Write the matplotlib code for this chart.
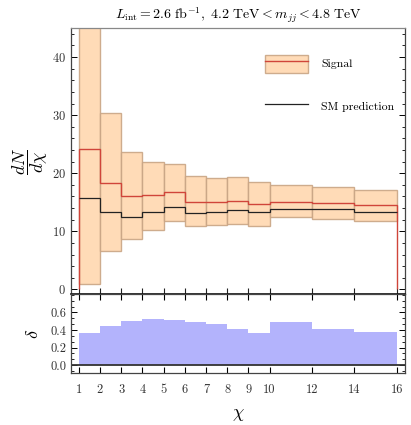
import numpy as np
import matplotlib
matplotlib.use("Agg")
import matplotlib.pyplot as plt
from matplotlib.patches import Patch
from matplotlib.lines import Line2D
from matplotlib.ticker import MultipleLocator, FixedLocator, FormatStrFormatter

plt.rcParams['font.family'] = 'serif'
plt.rcParams['font.serif'] = ['cmr10', 'DejaVu Serif']
plt.rcParams['mathtext.fontset'] = 'cm'
plt.rcParams['axes.formatter.use_mathtext'] = True

# bin edges in chi
edges = [1, 2, 3, 4, 5, 6, 7, 8, 9, 10, 12, 14, 16]
signal = [24.2, 18.4, 16.1, 16.2, 16.7, 15.1, 15.1, 15.3, 14.7, 15.1, 14.9, 14.5]
signal_hi = [48.0, 30.3, 23.6, 22.0, 21.5, 19.5, 19.1, 19.3, 18.5, 17.9, 17.6, 17.1]
signal_lo = [1.0, 6.6, 8.6, 10.3, 11.7, 10.9, 11.0, 11.3, 10.9, 12.4, 12.2, 11.8]
sm = [15.7, 13.3, 12.4, 13.3, 14.1, 13.1, 13.3, 13.7, 13.3, 13.8, 13.8, 13.4]
delta = [0.37, 0.44, 0.50, 0.52, 0.51, 0.49, 0.47, 0.41, 0.37, 0.49, 0.41, 0.38]
xticks = [1, 2, 3, 4, 5, 6, 7, 8, 9, 10, 12, 14, 16]
delta_ticks = [0.0, 0.2, 0.4, 0.6]

band_face = '#ffd8b0'
band_edge = '#c9a585'
red = '#d0453a'
blue = '#b3b3fc'
frame = '#444444'
tick_fs = 9

fig = plt.figure(figsize=(4.11, 4.25), dpi=100)
ax = fig.add_axes([0.1728, 0.3082, 0.8126, 0.6259])
axd = fig.add_axes([0.1728, 0.1224, 0.8126, 0.1858], sharex=ax)

e = np.array(edges, dtype=float)
widths = np.diff(e)
lo = np.array(signal_lo)
hi = np.array(signal_hi)
ax.bar(e[:-1], hi - lo, bottom=lo, width=widths, align='edge',
       color=band_face, edgecolor=band_edge, linewidth=1.0, alpha=0.9, zorder=1)
ax.stairs(signal, edges, baseline=0, color=red, linewidth=1.0, zorder=3)
ax.stairs(sm, edges, baseline=None, color='#222222', linewidth=0.9, zorder=3)

ax.set_xlim(0.64, 16.38)
ax.set_ylim(-0.8, 45.0)
ax.yaxis.set_major_locator(MultipleLocator(10))
ax.yaxis.set_minor_locator(MultipleLocator(2))
ax.set_xticks(xticks)
ax.tick_params(axis='x', which='both', direction='in', labelbottom=False, length=4, width=0.8, color='#222222')
ax.tick_params(axis='y', which='major', direction='in', left=True, right=True, length=4, width=0.7,
               labelsize=tick_fs, labelcolor='#333333')
ax.tick_params(axis='y', which='minor', direction='in', left=True, right=True, length=2.5, width=0.6)
ax.set_ylabel(r'$\dfrac{dN}{d\chi}$', fontsize=13, rotation=90)
ax.yaxis.set_label_coords(-0.063, 0.5)

sig_handle = (Patch(facecolor=band_face, edgecolor=band_edge, alpha=0.9),
              Line2D([], [], color=red, linewidth=1.0))
sm_handle = Line2D([], [], color='#222222', linewidth=0.9)
ax.legend([sig_handle, sm_handle], ['Signal', 'SM prediction'], loc='upper right',
          bbox_to_anchor=(1.0, 0.94), frameon=False, fontsize=8.5,
          handlelength=3.65, handleheight=2.0, labelspacing=2.1, handletextpad=1.1)

ax.set_title(r'$L_{\rm int} = 2.6\ {\rm fb}^{-1},\ 4.2\ {\rm TeV} < m_{jj} < 4.8\ {\rm TeV}$',
             fontsize=10, pad=7)

axd.stairs(delta, edges, baseline=0, fill=True, color=blue, linewidth=0, zorder=1)
axd.axhline(0, color='#333333', linewidth=1.3, zorder=2)
axd.set_ylim(-0.09, 0.81)
axd.yaxis.set_major_locator(FixedLocator(delta_ticks))
axd.yaxis.set_minor_locator(MultipleLocator(0.2 / 3))
axd.set_xticks(xticks)
axd.set_xticklabels([str(t) for t in xticks])
axd.tick_params(axis='x', which='both', direction='in', top=True, bottom=True, length=4, width=0.8,
                labelsize=tick_fs, labelcolor='#333333', pad=8)
axd.tick_params(axis='y', which='major', direction='in', left=True, right=True, length=4, width=0.7,
                labelsize=tick_fs, labelcolor='#333333')
axd.tick_params(axis='y', which='minor', direction='in', left=True, right=True, length=2.5, width=0.6)
axd.yaxis.set_major_formatter(FormatStrFormatter('%.1f'))
axd.set_ylabel(r'$\delta$', fontsize=13)
axd.yaxis.set_label_coords(-0.09, 0.5)
axd.set_xlabel(r'$\chi$', fontsize=13, labelpad=8)

for a in (ax, axd):
    for s in a.spines.values():
        s.set_color(frame)
        s.set_linewidth(0.9)
ax.spines['bottom'].set_color('#111111')
ax.spines['bottom'].set_linewidth(1.2)
ax.spines['top'].set_color('#888888')

fig.savefig('out.png', dpi=100)
